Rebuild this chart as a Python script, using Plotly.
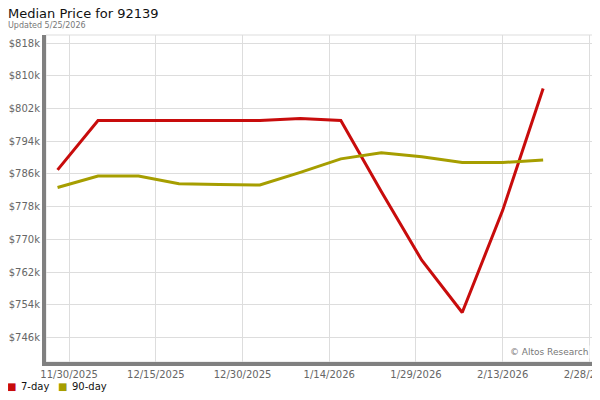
import plotly.graph_objects as go

# weekly samples
dates = ['2025-11-28', '2025-12-05', '2025-12-12', '2025-12-19', '2025-12-26',
         '2026-01-02', '2026-01-09', '2026-01-16', '2026-01-23', '2026-01-30',
         '2026-02-06', '2026-02-13', '2026-02-20']
# median price, in $k
price_7day = [787.0, 799.1, 799.1, 799.1, 799.1, 799.1, 799.6, 799.1,
              781.7, 764.9, 752.1, 777.1, 806.9]
price_90day = [782.7, 785.5, 785.5, 783.6, 783.4, 783.3, 786.4, 789.7,
               791.2, 790.2, 788.8, 788.8, 789.4]
series_names = ['7-day', '90-day']

red = '#c80c0c'
olive = '#a69e00'
font = 'DejaVu Sans'

# the page body adds an 8px margin, so the figure is drawn 8px smaller
W, H = 592, 392
pw, ph = 547, 327  # plot area size in px


def px_x(page_x):
    # page pixel -> paper x for a left-anchored annotation
    return (page_x - 48) / pw


fig = go.Figure()
fig.add_trace(go.Scatter(x=dates, y=price_7day, mode='lines', name=series_names[0],
                         line=dict(color=red, width=3)))
fig.add_trace(go.Scatter(x=dates, y=price_90day, mode='lines', name=series_names[1],
                         line=dict(color=olive, width=3)))

annotations = [
    dict(text='Median Price for 92139', xref='paper', yref='paper',
         x=px_x(8), y=1 + 21 / ph, xanchor='left', yanchor='middle', showarrow=False,
         font=dict(family=font, size=13, color='#111111')),
    dict(text='Updated 5/25/2026', xref='paper', yref='paper',
         x=px_x(8), y=1 + 9 / ph, xanchor='left', yanchor='middle', showarrow=False,
         font=dict(family=font, size=8, color='#777777')),
    dict(text='© Altos Research', xref='paper', yref='paper',
         x=0.995, y=0.01, xanchor='right', yanchor='bottom', showarrow=False,
         font=dict(family=font, size=9, color='#777777'), bgcolor='white'),
]
# legend row under the axis: small square + label for each series
for name, col, sq_x, txt_x in [(series_names[0], red, 7, 21), (series_names[1], olive, 58, 72)]:
    annotations.append(dict(text='■', xref='paper', yref='paper', x=px_x(sq_x), y=-24 / ph,
                            xanchor='left', yanchor='middle', showarrow=False,
                            font=dict(family=font, size=10, color=col)))
    annotations.append(dict(text=name, xref='paper', yref='paper', x=px_x(txt_x), y=-24 / ph,
                            xanchor='left', yanchor='middle', showarrow=False,
                            font=dict(family=font, size=10, color='#111111')))

fig.update_layout(
    width=W, height=H,
    margin=dict(l=38, r=7, t=27, b=38, autoexpand=False),
    paper_bgcolor='white', plot_bgcolor='white',
    font=dict(family=font, size=10, color='#666666'),
    showlegend=False,
    xaxis=dict(type='date', range=['2025-11-26', '2026-02-28 15:00'],
               tick0='2025-11-30', dtick=15 * 86400000, tickformat='%-m/%-d/%Y',
               showgrid=True, gridcolor='#dddddd', gridwidth=1,
               showline=True, linecolor='#808080', linewidth=4,
               ticks='', zeroline=False, automargin=False,
               ticklabeloverflow='allow',
               tickfont=dict(size=10, color='#666666')),
    yaxis=dict(range=[740, 820], tick0=746, dtick=8, tickprefix='$', ticksuffix='k',
               showgrid=True, gridcolor='#dddddd', gridwidth=1,
               showline=True, linecolor='#808080', linewidth=4,
               ticks='', zeroline=False, automargin=False,
               tickfont=dict(size=10, color='#666666')),
    shapes=[dict(type='rect', xref='paper', yref='paper', x0=0, x1=1, y0=0, y1=1,
                 line=dict(color='#dddddd', width=1), layer='below')],
    annotations=annotations,
)

fig.write_html('out.html')
